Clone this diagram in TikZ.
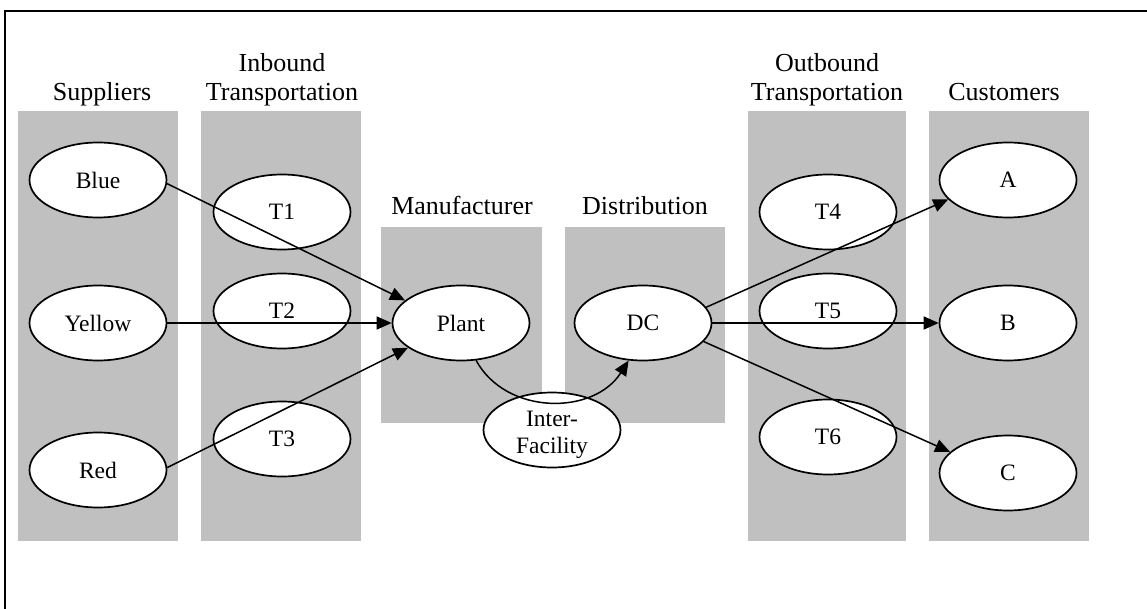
\documentclass[tikz,border=0pt]{standalone}
\usepackage{fontspec}
\setmainfont{Liberation Serif}
\usetikzlibrary{arrows.meta,shapes.geometric}
\definecolor{stagegray}{RGB}{192,192,192}

\tikzset{
  site/.style={ellipse, draw, fill=white, line width=1.7pt, inner sep=0pt,
    minimum width=137pt, minimum height=75pt, align=center,
    font=\fontsize{23.5}{27}\selectfont},
  header/.style={anchor=base, inner sep=0pt, align=center,
    font=\fontsize{26}{29}\selectfont},
  flow/.style={line width=1.5pt, -{Triangle[length=15pt,width=13pt]}}
}

\begin{document}
\begin{tikzpicture}[x=1pt,y=-1pt]
  \useasboundingbox (0,0) rectangle (1147,609);
  \draw[line width=2pt] (5,612) -- (5,11.5) -- (1150,11.5);
  % grey stages
  \foreach \l/\t/\r/\b in {18/111/178/541, 201/111/361/541, 381/227/542/423,
      565/227/725/423, 748/111/906/541, 929/111/1089/541}
    \fill[stagegray] (\l,\t) rectangle (\r,\b);
  % headers
  \node[header] (hsup) at (102,101) {Suppliers};
  \node[header] (hin)  at (282,101) {Inbound\\Transportation};
  \node[header] (hman) at (462,215) {Manufacturer};
  \node[header] (hdis) at (645,215) {Distribution};
  \node[header] (hout) at (827,101) {Outbound\\Transportation};
  \node[header] (hcus) at (1004,101) {Customers};
  % suppliers
  \node[site] (blue)   at (98,180) {Blue};
  \node[site] (yellow) at (98,323) {Yellow};
  \node[site] (red)    at (98,470) {Red};
  % inbound
  \node[site] (t1) at (282,212) {T1};
  \node[site] (t2) at (282,311) {T2};
  \node[site] (t3) at (282,439) {T3};
  % plant, dc
  \node[site] (plant) at (461,323) {Plant};
  \node[site] (dc)    at (643,323) {DC};
  \node[site] (inter) at (552,430)
    {\raisebox{-11pt}[0pt][0pt]{\begin{tabular}{@{}c@{}}Inter-\\Facility\end{tabular}}};
  % outbound
  \node[site] (t4) at (828,212) {T4};
  \node[site] (t5) at (828,311) {T5};
  \node[site] (t6) at (828,437) {T6};
  % customers
  \node[site] (a) at (1008,180) {A};
  \node[site] (b) at (1008,323) {B};
  \node[site] (c) at (1008,473) {C};
  % flows
  \draw[flow] (blue.-3) -- (plant.158);
  \draw[flow] (yellow.east) -- (plant.west);
  \draw[flow] (red.2) -- (plant.205);
  \draw[flow] (plant.292) .. controls +(30,55) and +(-35,55) .. (dc.249);
  \draw[flow] (dc.14) -- (a.198);
  \draw[flow] (dc.east) -- (b.west);
  \draw[flow] (dc.-17) -- (c.160);
\end{tikzpicture}
\end{document}
